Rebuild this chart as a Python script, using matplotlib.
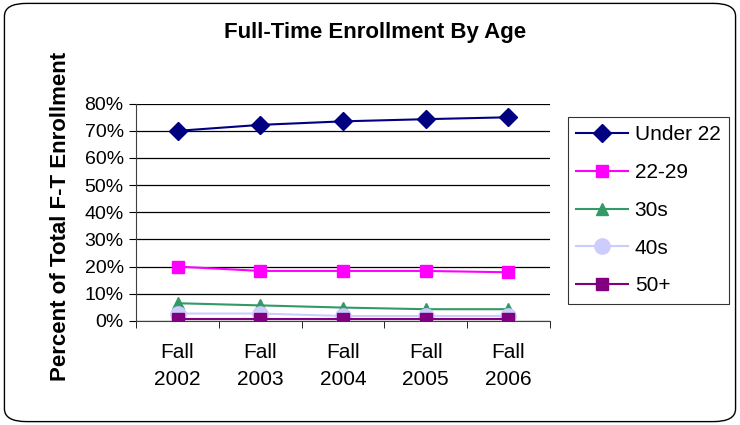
import matplotlib.pyplot as plt
from matplotlib.patches import FancyBboxPatch
import numpy as np

plt.rcParams['font.family'] = ['Liberation Sans', 'DejaVu Sans']

# Données
years = ["Fall\n2002", "Fall\n2003", "Fall\n2004", "Fall\n2005", "Fall\n2006"]
under22 = [70.0, 72.2, 73.5, 74.3, 75.0]
age22_29 = [20.0, 18.4, 18.4, 18.4, 17.9]
age30s = [6.5, 5.7, 4.9, 4.3, 4.3]
age40s = [2.7, 2.7, 1.8, 1.8, 1.8]
age50p = [0.6, 0.6, 0.6, 0.6, 0.6]

fig = plt.figure(figsize=(7.4, 4.25), dpi=100)
ax = fig.add_axes([0.184, 0.245, 0.559, 0.511])

# cadre arrondi autour de la figure
cadre = FancyBboxPatch((0.006, 0.008), 0.988, 0.984, boxstyle="round,pad=0,rounding_size=0.03",
                       transform=fig.transFigure, fill=False, edgecolor="black", linewidth=1.0)
fig.patches.append(cadre)

x = np.arange(len(years))
ax.plot(x, under22, color="#000080", marker="D", markersize=9, lw=1.5, label="Under 22", zorder=5)
ax.plot(x, age22_29, color="#FF00FF", marker="s", markersize=8, lw=1.5, label="22-29", zorder=5)
ax.plot(x, age30s, color="#339966", marker="^", markersize=8, lw=1.5, label="30s", zorder=4)
ax.plot(x, age40s, color="#CCCCFF", marker="o", markersize=11, lw=1.5, label="40s", zorder=4)
ax.plot(x, age50p, color="#800080", marker="s", markersize=8, lw=1.5, label="50+", zorder=5)

ax.set_xlim(-0.5, 4.5)
ax.set_ylim(0, 80)
ax.set_yticks(np.arange(0, 81, 10))
ax.set_yticklabels([f"{v}%" for v in range(0, 81, 10)], fontsize=14)
ax.set_xticks(x)
ax.set_xticklabels(years, fontsize=15, linespacing=1.55)
ax.set_xticks(np.arange(-0.5, 5, 1), minor=True)
ax.tick_params(axis="x", which="major", length=0, pad=16)
ax.tick_params(axis="x", which="minor", length=5, direction="out")
ax.tick_params(axis="y", length=5, direction="out", pad=4)
ax.yaxis.grid(True, color="black", lw=0.9)
ax.set_axisbelow(True)
for s in ["top", "right"]:
    ax.spines[s].set_visible(False)
ax.spines["left"].set_color("#404040")
ax.spines["bottom"].set_color("#404040")

ax.set_ylabel("Percent of Total F-T Enrollment", fontsize=16, fontweight="bold")
ax.yaxis.set_label_coords(-0.157, 0.48)
fig.text(0.507, 0.923, "Full-Time Enrollment By Age", ha="center", va="center",
         fontsize=16, fontweight="bold")

leg = fig.legend(loc="upper left", bbox_to_anchor=(568 / 740, 1 - 117 / 425), fontsize=15,
                 frameon=True, fancybox=False, edgecolor="black", handlelength=2.5,
                 handletextpad=0.3, labelspacing=0.9, borderpad=0.4, borderaxespad=0)
leg.get_frame().set_linewidth(0.8)

fig.savefig("out.png", dpi=100)
